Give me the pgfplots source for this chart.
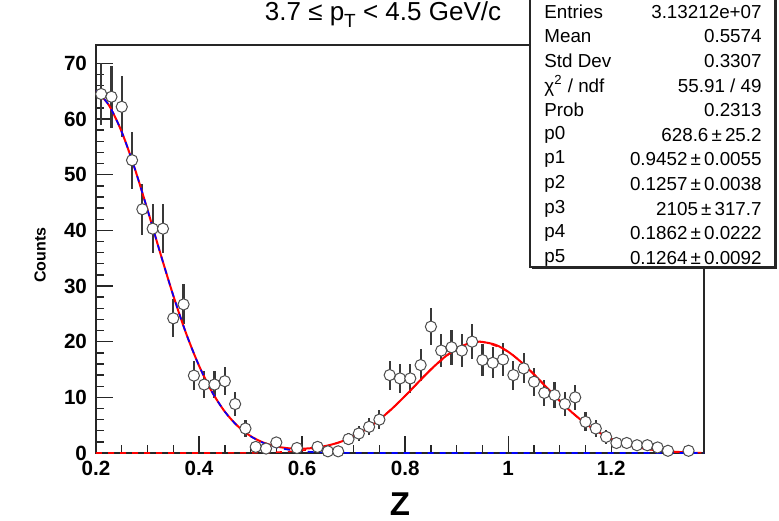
\documentclass[border=0pt]{standalone}
\usepackage{pgfplots}
\pgfplotsset{compat=1.18}
\usepackage{fontspec}
\setmainfont{Liberation Sans}
\definecolor{framec}{gray}{0.15}
\definecolor{errc}{gray}{0.22}
\definecolor{markc}{gray}{0.30}
\definecolor{rootred}{rgb}{1,0,0}
\definecolor{rootblue}{rgb}{0,0,1}

\pgfplotstableread{
x y e
0.21 64.5 5.6
0.23 64.0 5.6
0.25 62.2 5.5
0.27 52.6 5.1
0.29 43.8 4.6
0.31 40.3 4.4
0.33 40.3 4.4
0.35 24.2 3.4
0.37 26.7 3.6
0.39 13.9 2.6
0.41 12.3 2.5
0.43 12.3 2.5
0.45 12.9 2.5
0.47 8.8 2.1
0.49 4.4 1.5
0.51 1.1 0.7
0.53 0.8 0.6
0.55 1.9 1.0
0.59 0.9 0.7
0.63 1.1 0.7
0.65 0.3 0.4
0.67 0.3 0.4
0.69 2.5 1.1
0.71 3.5 1.3
0.73 4.7 1.5
0.75 6.0 1.7
0.77 14.0 2.6
0.79 13.4 2.6
0.81 13.4 2.6
0.83 15.8 2.8
0.85 22.7 3.3
0.87 18.4 3.0
0.89 19.0 3.1
0.91 18.4 3.0
0.93 20.0 3.1
0.95 16.7 2.9
0.97 16.2 2.8
0.99 16.8 2.9
1.01 14.0 2.6
1.03 15.2 2.7
1.05 12.8 2.5
1.07 10.8 2.3
1.09 10.4 2.3
1.11 8.8 2.1
1.13 10.0 2.2
1.15 5.6 1.7
1.17 4.4 1.5
1.19 2.9 1.2
1.21 1.8 0.9
1.23 1.8 0.9
1.25 1.4 0.8
1.27 1.4 0.8
1.29 1.0 0.7
1.31 0.4 0.4
1.35 0.4 0.4
}\datatable

\begin{document}
\begin{tikzpicture}
\useasboundingbox (-48pt,-33.5pt) rectangle (341.5pt,226.5pt);
\begin{axis}[
  at={(0pt,0pt)}, anchor=south west,
  scale only axis, width=304pt, height=204pt,
  xmin=0.2, xmax=1.38, ymin=0, ymax=73.3,
  axis line style={framec, line width=0.8pt},
  tick align=inside, xtick pos=left, ytick pos=left,
  major tick length=8.5pt, minor tick length=4pt,
  every tick/.style={framec, line width=0.7pt},
  /pgf/number format/assume math mode=true,
  ticklabel style={font=\fontsize{10.3}{11}\selectfont\bfseries},
  xtick={0.2,0.4,0.6,0.8,1,1.2},
  xticklabels={0.2,0.4,0.6,0.8,1,1.2},
  minor x tick num=3,
  ytick={0,10,20,30,40,50,60,70},
  yticklabels={0,10,20,30,40,50,60,70},
  minor y tick num=4,
  xticklabel style={yshift=-0.5pt},
  yticklabel style={xshift=-1pt},
]
% error bars
\addplot[draw=none, mark=none, forget plot,
  error bars/.cd, y dir=both, y explicit, error mark=none,
  error bar style={errc, line width=1.1pt}]
  table[x=x, y=y, y error=e] {\datatable};
% markers
\addplot[only marks, mark=*, mark size=2.8pt,
  mark options={fill=white, draw=markc, line width=0.5pt}]
  table[x=x, y=y] {\datatable};
% right gaussian component (red dashed)
\addplot[rootred, dashed, line width=0.8pt, smooth] coordinates {
(0.2,0) (0.3,0) (0.4,0) (0.45,0.01) (0.5,0.04) (0.55,0.14) (0.6,0.46)
(0.65,1.27) (0.7,2.98) (0.75,6.00) (0.8,10.26) (0.85,15.01) (0.9,18.75)
(0.945,20.0) (1.0,18.19) (1.05,14.13) (1.1,9.37) (1.15,5.30) (1.2,2.56)
(1.25,1.06) (1.3,0.37) (1.35,0.11) (1.38,0.05)};
% total fit (red solid)
\addplot[rootred, line width=1pt, smooth] coordinates {
(0.2,65.11) (0.225,62.49) (0.25,57.67) (0.275,51.17) (0.3,43.68)
(0.325,35.84) (0.35,28.28) (0.375,21.46) (0.4,15.67) (0.425,11.00)
(0.45,7.43) (0.475,4.84) (0.5,3.04) (0.525,1.87) (0.55,1.18)
(0.575,0.84) (0.6,0.77) (0.625,0.94) (0.65,1.35) (0.675,2.02)
(0.7,3.00) (0.725,4.32) (0.75,6.00) (0.775,8.00) (0.8,10.26)
(0.825,12.66) (0.85,15.01) (0.875,17.11) (0.9,18.75) (0.925,19.74)
(0.945,20.0) (0.975,19.45) (1.0,18.19) (1.025,16.35) (1.05,14.13)
(1.075,11.74) (1.1,9.37) (1.125,7.19) (1.15,5.30) (1.175,3.76)
(1.2,2.56) (1.225,1.68) (1.25,1.06) (1.275,0.64) (1.3,0.37)
(1.325,0.21) (1.36,0.09)};
% left gaussian component (blue dashed)
\addplot[rootblue, dashed, line width=0.8pt, smooth] coordinates {
(0.2,65.11) (0.225,62.49) (0.25,57.67) (0.275,51.17) (0.3,43.68)
(0.325,35.84) (0.35,28.28) (0.375,21.46) (0.4,15.67) (0.425,11.00)
(0.45,7.42) (0.475,4.82) (0.5,3.00) (0.525,1.80) (0.55,1.04)
(0.575,0.58) (0.6,0.31) (0.625,0.16) (0.65,0.08) (0.7,0.02)
(0.8,0) (1.0,0) (1.2,0) (1.38,0)};
\end{axis}
% title
\node[font=\fontsize{13}{14}\selectfont, inner sep=0pt] at (143.5pt,219.3pt)
  {3.7 ≤ p\raisebox{-0.55ex}{\fontsize{9.5}{10}\selectfont T} < 4.5 GeV/c};
% axis titles
\node[font=\fontsize{16.5}{18}\selectfont\bfseries, inner sep=0pt] at (152pt,-25.8pt) {Z};
\node[font=\fontsize{8}{9}\selectfont\bfseries, rotate=90, inner sep=0pt] at (-28pt,99pt) {Counts};
% stats box
\fill[framec] (218.2pt,91.8pt) rectangle (340.7pt,240pt);
\draw[framec, line width=0.7pt, fill=white] (217pt,93pt) rectangle (339.5pt,240pt);
\begin{scope}[every node/.style={font=\fontsize{9.4}{10}\selectfont, inner sep=0pt}]
\node[anchor=west] at (224pt,220.5pt) {Entries}; \node[anchor=east] at (333pt,220.5pt) {3.13212e+07};
\node[anchor=west] at (224pt,208.3pt) {Mean}; \node[anchor=east] at (333pt,208.3pt) {0.5574};
\node[anchor=west] at (224pt,196pt) {Std Dev}; \node[anchor=east] at (333pt,196pt) {0.3307};
\node[anchor=west] at (224pt,183.7pt) {χ\textsuperscript{2} / ndf}; \node[anchor=east] at (333pt,183.7pt) {55.91 / 49};
\node[anchor=west] at (224pt,171.4pt) {Prob}; \node[anchor=east] at (333pt,171.4pt) {0.2313};
\node[anchor=west] at (224pt,159.1pt) {p0}; \node[anchor=east] at (333pt,159.1pt) {628.6\,±\,25.2};
\node[anchor=west] at (224pt,146.8pt) {p1}; \node[anchor=east] at (333pt,146.8pt) {0.9452\,±\,0.0055};
\node[anchor=west] at (224pt,134.5pt) {p2}; \node[anchor=east] at (333pt,134.5pt) {0.1257\,±\,0.0038};
\node[anchor=west] at (224pt,122.2pt) {p3}; \node[anchor=east] at (333pt,122.2pt) {2105\,±\,317.7};
\node[anchor=west] at (224pt,109.9pt) {p4}; \node[anchor=east] at (333pt,109.9pt) {0.1862\,±\,0.0222};
\node[anchor=west] at (224pt,97.6pt) {p5}; \node[anchor=east] at (333pt,97.6pt) {0.1264\,±\,0.0092};
\end{scope}
\end{tikzpicture}
\end{document}
